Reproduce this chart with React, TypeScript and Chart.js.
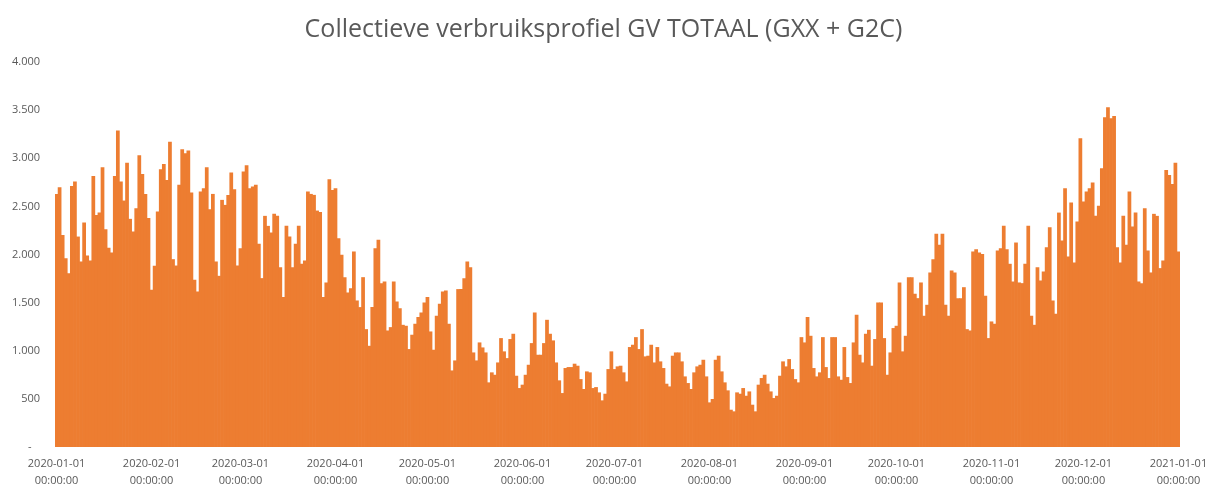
import React, { useEffect, useRef } from 'react';
import { Chart, registerables } from 'chart.js';

Chart.register(...registerables);

const TITLE = 'Collectieve verbruiksprofiel GV TOTAAL (GXX + G2C)';

// Daily values 2020
const jan = [2626, 2695, 2200, 1958, 1803, 2709, 2754, 2183, 1924, 2329, 1986, 1934, 2813, 2408, 2432, 2903, 2259, 2066, 2017, 2813, 3284, 2754, 2557, 2951, 2367, 2235, 2477, 3028, 2834, 2626, 2377];
const feb = [1630, 1879, 2443, 2882, 2938, 2771, 3169, 1948, 1882, 2720, 3090, 3048, 3076, 2640, 1733, 1612, 2650, 2685, 2903, 2467, 2626, 1924, 1775, 2564, 2512, 2616, 2848, 2675, 1882];
const mar = [2062, 2858, 2924, 2685, 2702, 2720, 2107, 1751, 2398, 2294, 2225, 2419, 2398, 1865, 1554, 2294, 2183, 1865, 2107, 2294, 1900, 1934, 2650, 2626, 2616, 2453, 2439, 1554, 1706, 2778, 2668];
const apr = [2685, 2166, 1993, 1761, 1602, 1647, 2028, 1519, 1450, 1761, 1221, 1048, 1450, 2062, 2149, 1699, 1716, 1207, 1242, 1716, 1509, 1439, 1266, 1256, 1014, 1163, 1277, 1346, 1394, 1498];
const may = [1554, 1197, 1007, 1360, 1484, 1612, 1623, 1277, 792, 896, 1637, 1637, 1751, 1924, 1865, 979, 896, 1083, 1031, 979, 668, 772, 747, 875, 1128, 990, 920, 1118, 1173, 737, 609];
const jun = [644, 747, 851, 1076, 1394, 955, 955, 1076, 1318, 1173, 1104, 875, 689, 557, 817, 827, 827, 862, 841, 702, 599, 782, 772, 609, 619, 564, 481, 550, 806, 990];
const jul = [806, 834, 841, 772, 678, 1035, 1059, 1138, 1014, 1221, 938, 945, 1059, 875, 1035, 886, 817, 654, 626, 945, 979, 979, 886, 730, 661, 599, 772, 834, 851, 903, 730];
const aug = [460, 495, 903, 945, 782, 668, 585, 384, 367, 564, 550, 609, 529, 574, 436, 367, 644, 713, 747, 654, 574, 505, 529, 737, 886, 834, 910, 806, 702, 668, 1138];
const sep = [1083, 1346, 1152, 817, 730, 772, 1138, 827, 713, 1138, 1138, 730, 695, 1035, 723, 661, 1083, 1370, 955, 875, 1173, 1214, 841, 1118, 1498, 1498, 1128, 747, 979, 1232];
const oct = [1256, 1706, 990, 1152, 1761, 1761, 1588, 1543, 1706, 1360, 1474, 1810, 1948, 2211, 2097, 2211, 1474, 1360, 1830, 1810, 1543, 1543, 1657, 1221, 1207, 2028, 2052, 2017, 2003, 1567, 1128];
const nov = [1301, 1277, 2038, 2062, 2294, 2052, 1900, 1716, 2121, 1706, 1699, 1900, 2294, 1360, 1266, 1865, 1727, 1820, 2073, 2280, 1519, 1381, 2432, 2142, 2685, 1976, 2536, 1913, 2339, 3204];
const dec = [2547, 2650, 2685, 2744, 2398, 2502, 2893, 3422, 3526, 3412, 3436, 2073, 1913, 2398, 2097, 2650, 2287, 2432, 1716, 1699, 2477, 2038, 1810, 2419, 2398, 1855, 1934, 2875, 2823, 2730, 2951];
const jan2021 = [2028];

const months = [
  { key: '2020-01', values: jan },
  { key: '2020-02', values: feb },
  { key: '2020-03', values: mar },
  { key: '2020-04', values: apr },
  { key: '2020-05', values: may },
  { key: '2020-06', values: jun },
  { key: '2020-07', values: jul },
  { key: '2020-08', values: aug },
  { key: '2020-09', values: sep },
  { key: '2020-10', values: oct },
  { key: '2020-11', values: nov },
  { key: '2020-12', values: dec },
  { key: '2021-01', values: jan2021 },
];

const Y_MIN = 0;
const Y_MAX = 4000;
const Y_STEP = 500;

function formatNl(v: number): string {
  if (v === 0) return '-   ';
  if (v >= 1000) {
    const th = Math.floor(v / 1000);
    const rest = String(v % 1000).padStart(3, '0');
    return `${th}.${rest}`;
  }
  return String(v);
}

export default function App() {
  const ref = useRef<HTMLCanvasElement | null>(null);

  useEffect(() => {
    if (!ref.current) return;
    const labels: string[] = [];
    const values: number[] = [];
    months.forEach((m) => {
      m.values.forEach((v, i) => {
        labels.push(`${m.key}-${String(i + 1).padStart(2, '0')}`);
        values.push(v);
      });
    });

    const tickColor = '#595959';
    const font = '"Open Sans", "Liberation Sans", sans-serif';

    const chart = new Chart(ref.current, {
      type: 'bar',
      data: {
        labels,
        datasets: [
          {
            data: values,
            backgroundColor: '#ED7D31',
            borderWidth: 0,
            barPercentage: 1,
            categoryPercentage: 1,
            yAxisID: 'y',
          },
        ],
      },
      options: {
        responsive: false,
        animation: false,
        layout: { padding: 0 },
        plugins: {
          legend: { display: false },
          tooltip: { enabled: false },
          title: {
            display: true,
            text: TITLE,
            color: tickColor,
            font: { family: font, size: 25, weight: 'normal', lineHeight: 1.2 },
            padding: { top: 15, bottom: 17 },
          },
        },
        scales: {
          x: {
            type: 'category',
            grid: { display: false, drawTicks: false },
            border: { display: false },
            ticks: {
              autoSkip: false,
              maxRotation: 0,
              minRotation: 0,
              padding: 8,
              color: tickColor,
              font: { family: font, size: 11, lineHeight: 1.55 },
              callback: (_v: any, idx: number) => {
                const lab = labels[idx];
                return lab && lab.endsWith('-01') ? [lab, '00:00:00'] : '';
              },
            },
            afterFit: (scale: any) => {
              scale.height = 38;
              scale.paddingRight = 0;
              scale.paddingLeft = 0;
            },
          },
          y: {
            position: 'left',
            min: Y_MIN,
            max: Y_MAX,
            grid: { display: false, drawTicks: false },
            border: { display: false },
            ticks: {
              stepSize: Y_STEP,
              padding: 15,
              color: tickColor,
              font: { family: font, size: 11 },
              callback: (v: any) => formatNl(Number(v)),
            },
            afterFit: (scale: any) => {
              scale.width = 55;
            },
          },
          yRight: {
            position: 'right',
            display: true,
            grid: { display: false, drawTicks: false },
            border: { display: false },
            ticks: { display: false },
            afterFit: (scale: any) => {
              scale.width = 27;
            },
          },
        },
      },
    });
    return () => chart.destroy();
  }, []);

  return (
    <div style={{ position: 'fixed', left: 0, top: 0, width: 1207, height: 485, background: '#fff' }}>
      <canvas ref={ref} width={1207} height={485} style={{ width: 1207, height: 485, display: 'block' }} />
    </div>
  );
}
